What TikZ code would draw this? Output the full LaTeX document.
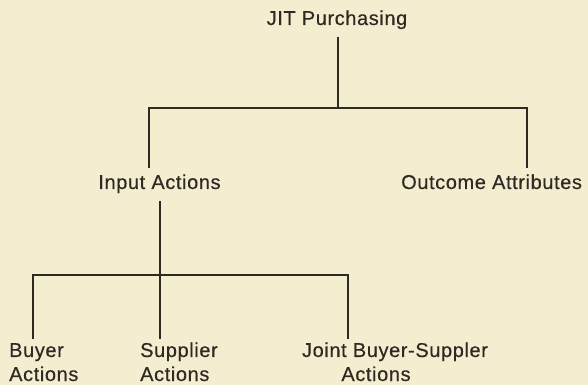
\documentclass[tikz,border=0pt]{standalone}
\usepackage{fontspec}
\setmainfont{Liberation Sans}[LetterSpace=3,FakeBold=0.4]
\definecolor{paper}{RGB}{243,238,208}
\definecolor{ink}{RGB}{48,40,34}
\begin{document}
\begin{tikzpicture}[x=1pt,y=1pt,
  lbl/.style={inner sep=0pt, outer ysep=8pt, text height=13pt, text depth=4pt, text=ink,
              font=\fontsize{20}{24}\selectfont},
  leaf/.style={inner sep=0pt, outer ysep=4pt, text=ink, font=\fontsize{20}{24}\selectfont},
  conn/.style={draw=ink, line width=1.7pt}]
\fill[paper] (0,0) rectangle (588,385);
\useasboundingbox (0,0) rectangle (588,385);

\node[lbl, anchor=base] (jit) at (337,360) {JIT Purchasing};
\node[lbl, anchor=base] (input) at (159.5,196) {Input Actions};
\node[lbl, anchor=base west] (outcome) at (401,196) {Outcome Attributes};

\node[leaf, anchor=base west, align=left] (buyer) at (9,4) {Buyer\\Actions};
\node[leaf, anchor=base west, align=left] (supplier) at (140,4) {Supplier\\Actions};
\node[leaf, anchor=base, align=center] (joint) at (395,4) {Joint Buyer-Suppler\\\hspace*{-38pt}Actions};

\coordinate (tb) at (338,277);
\coordinate (tl) at (149,277);
\coordinate (tr) at (527,277);
\coordinate (bb) at (160,110);
\coordinate (bl) at (33,110);
\coordinate (br) at (348,110);

\draw[conn] (jit.south -| tb) -- (tb);
\draw[conn] (tl |- input.north) -- (tl) -- (tr) -- (tr |- outcome.north);
\draw[conn] (input.south -| bb) -- (bb);
\draw[conn] (bl |- buyer.north) -- (bl) -- (br) -- (br |- joint.north);
\draw[conn] (bb) -- (bb |- supplier.north);
\end{tikzpicture}
\end{document}
